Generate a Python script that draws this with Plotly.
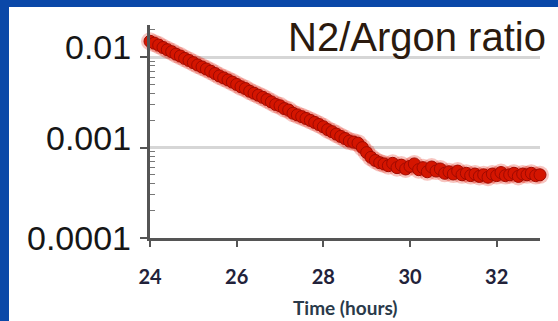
import math
import plotly.graph_objects as go

# ---- data ----
time_h = [24.0, 24.1, 24.2, 24.3, 24.4, 24.5, 24.6, 24.7, 24.8, 24.9,
          25.0, 25.1, 25.2, 25.3, 25.4, 25.5, 25.6, 25.7, 25.8, 25.9,
          26.0, 26.1, 26.2, 26.3, 26.4, 26.5, 26.6, 26.7, 26.8, 26.9,
          27.0, 27.1, 27.2, 27.3, 27.4, 27.5, 27.6, 27.7, 27.8, 27.9,
          28.0, 28.1, 28.2, 28.3, 28.4, 28.5, 28.6, 28.7, 28.8, 28.9,
          29.0, 29.1, 29.2, 29.3, 29.4, 29.5, 29.6, 29.7, 29.8, 29.9,
          30.0, 30.1, 30.2, 30.3, 30.4, 30.5, 30.6, 30.7, 30.8, 30.9,
          31.0, 31.1, 31.2, 31.3, 31.4, 31.5, 31.6, 31.7, 31.8, 31.9,
          32.0, 32.1, 32.2, 32.3, 32.4, 32.5, 32.6, 32.7, 32.8, 32.9,
          33.0]
ratio = [0.0150, 0.0143, 0.0136, 0.0128, 0.0121, 0.0115, 0.0108, 0.0103, 0.0097, 0.0092,
         0.0087, 0.0082, 0.0078, 0.0074, 0.0070, 0.0066, 0.0062, 0.0059, 0.0056, 0.0053,
         0.0050, 0.0047, 0.0045, 0.0042, 0.0040, 0.0038, 0.0036, 0.0034, 0.0032, 0.0030,
         0.0029, 0.0027, 0.0026, 0.0024, 0.0023, 0.0022, 0.0021, 0.0020, 0.0019, 0.0018,
         0.0017, 0.00158, 0.00150, 0.00141, 0.00133, 0.00126, 0.00118, 0.00115, 0.00112, 0.00100,
         0.00088, 0.00078, 0.00072, 0.00068, 0.00066, 0.00063, 0.00067, 0.00060, 0.00064, 0.00058,
         0.00062, 0.00066, 0.00057, 0.00060, 0.00054, 0.00061, 0.00055, 0.00058, 0.00052, 0.00054,
         0.00051, 0.00055, 0.00050, 0.00052, 0.00049, 0.00051, 0.00048, 0.00050, 0.00047, 0.00051,
         0.00049, 0.00053, 0.00049, 0.00050, 0.00052, 0.00048, 0.00051, 0.00050, 0.00052, 0.00049,
         0.00050]

y_tickvals = [0.0001, 0.001, 0.01]
y_ticktext = ["0.0001", "0.001", "0.01"]
y_label_shift = [0, 10, 10]
y_minor = [2e-4, 3e-4, 4e-4, 5e-4, 6e-4, 7e-4, 8e-4, 9e-4,
           2e-3, 3e-3, 4e-3, 5e-3, 6e-3, 7e-3, 8e-3, 9e-3, 2e-2]
x_tickvals = [24, 26, 28, 30, 32]
x_ticktext = ["24", "26", "28", "30", "32"]
title_text = "N2/Argon ratio"
x_title = "Time (hours)"

W, H = 558, 321
ML, MR, MT, MB = 150, 18, 25, 83
PW, PH = W - ML - MR, H - MT - MB

def px_x(p):
    return (p - ML) / PW

def px_y(p):
    return (H - MB - p) / PH

fig = go.Figure()
# soft glow to mimic the blurred markers
fig.add_trace(go.Scatter(
    x=time_h, y=ratio, mode="markers",
    marker=dict(size=18, color="rgba(225,25,5,0.25)", line=dict(width=0)),
    hoverinfo="skip", showlegend=False, cliponaxis=False))
fig.add_trace(go.Scatter(
    x=time_h, y=ratio, mode="markers",
    marker=dict(size=12, color="#d41500", line=dict(width=1, color="#a00a00")),
    showlegend=False, cliponaxis=False))

# white panel over the blue frame
fig.add_shape(type="rect", xref="paper", yref="paper", layer="below",
              x0=px_x(9), x1=px_x(W + 2), y0=px_y(H + 2), y1=px_y(7),
              fillcolor="white", line=dict(width=0))

for v, t, s in zip(y_tickvals, y_ticktext, y_label_shift):
    fig.add_annotation(x=0, xref="paper", y=math.log10(v), yref="y", text=t,
                       xanchor="right", yanchor="middle", xshift=-17, yshift=s,
                       showarrow=False,
                       font=dict(family="Liberation Sans, Arial", size=34, color="#161616"))

fig.add_annotation(x=px_x(286), xref="paper", y=px_y(37), yref="paper",
                   text=title_text, xanchor="left", yanchor="middle",
                   showarrow=False,
                   font=dict(family="Liberation Sans, Arial", size=40, color="#2b1a0e"))

fig.add_annotation(x=0.5, xref="paper", y=px_y(307), yref="paper",
                   text=x_title, xanchor="center", yanchor="middle",
                   showarrow=False,
                   font=dict(family="Lato", size=19, color="#2a3a4a", weight="bold"))

fig.update_layout(
    width=W, height=H,
    margin=dict(l=ML, r=MR, t=MT, b=MB, pad=0),
    paper_bgcolor="#0a48a8",
    plot_bgcolor="white",
    xaxis=dict(
        range=[24, 33], tickmode="array", tickvals=x_tickvals, ticktext=x_ticktext,
        ticks="outside", ticklen=6, tickwidth=1.5, tickcolor="#555",
        showline=True, linecolor="#555", linewidth=2.5,
        showgrid=False, zeroline=False,
        tickfont=dict(family="Lato", size=20, color="#22223a", weight="bold"),
        ticklabelstandoff=13,
    ),
    yaxis=dict(
        type="log", range=[-4, -1.644],
        tickmode="array", tickvals=y_tickvals, showticklabels=False,
        ticks="outside", ticklen=7, tickwidth=1.5, tickcolor="#555",
        showline=True, linecolor="#555", linewidth=2.5,
        showgrid=True, gridcolor="#d6d6d6", gridwidth=3,
        zeroline=False,
        minor=dict(tickmode="array", tickvals=y_minor, ticks="inside",
                   ticklen=5, tickwidth=1, tickcolor="#777", showgrid=False),
    ),
)

fig.write_html("out.html")
